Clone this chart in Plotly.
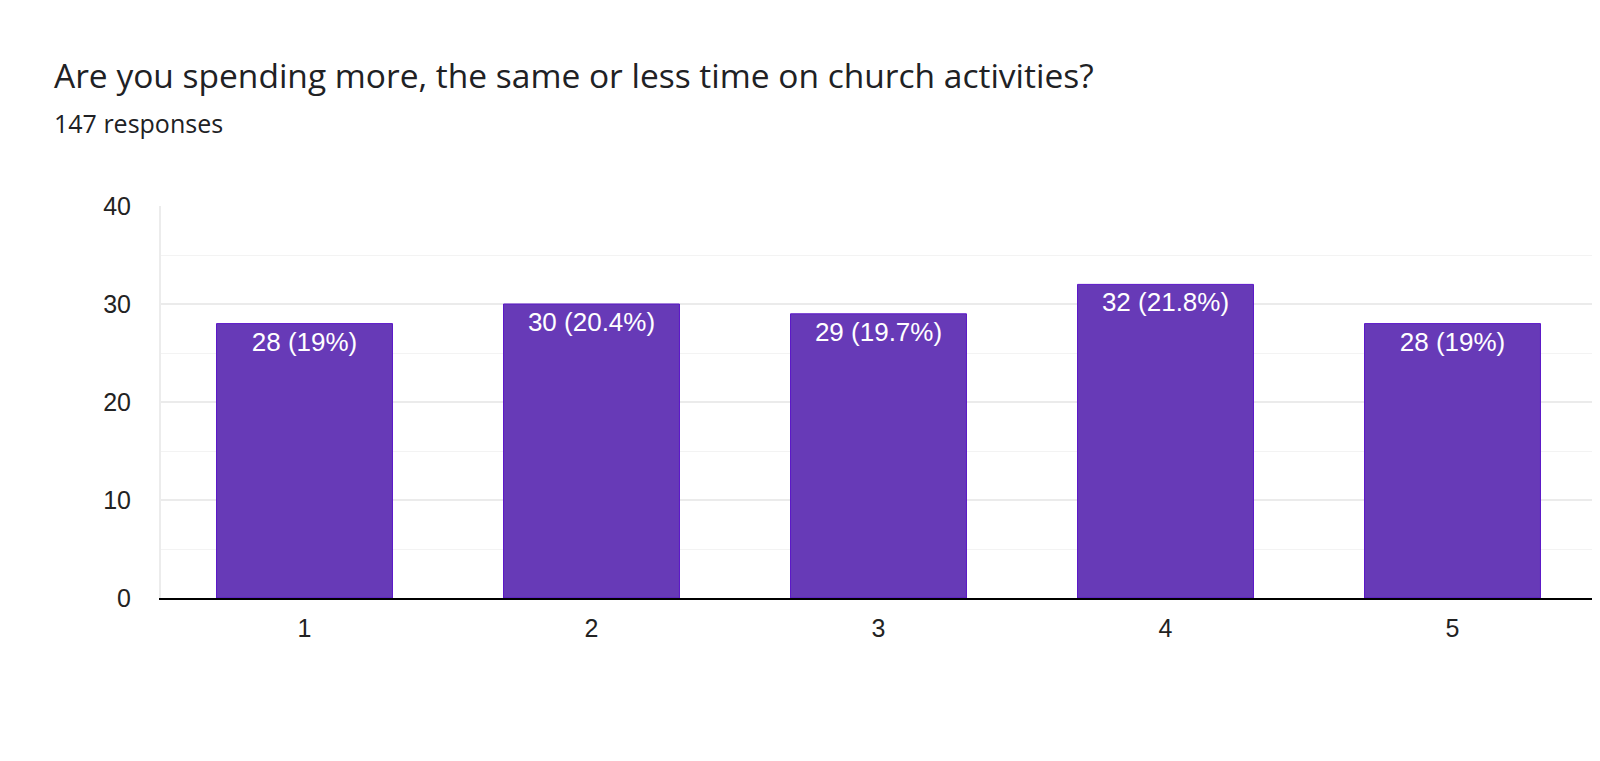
import plotly.graph_objects as go

categories = ["1", "2", "3", "4", "5"]
counts = [28, 30, 29, 32, 28]
labels = ["28 (19%)", "30 (20.4%)", "29 (19.7%)", "32 (21.8%)", "28 (19%)"]
y_ticks = [0, 10, 20, 30, 40]

title_text = "Are you spending more, the same or less time on church activities?"
subtitle_text = "147 responses"

# page body has an 8px default margin; figure coordinates below are offset by it
PLOT_L, PLOT_T, PLOT_B, PLOT_R = 153, 198, 590, 1590
FIG_W, FIG_H = 1592, 745
PH = PLOT_B - PLOT_T
PW = PLOT_R - PLOT_L


def py(y_px):
    return (PLOT_B - y_px) / PH


def px(x_px):
    return (x_px - PLOT_L) / PW


fig = go.Figure()
fig.add_trace(go.Bar(
    x=categories,
    y=counts,
    text=labels,
    textposition="inside",
    insidetextanchor="end",
    textangle=0,
    textfont=dict(family="Liberation Sans, Arial, sans-serif", size=26, color="#ffffff"),
    marker=dict(color="#673ab7", line=dict(color="#5b16c8", width=1)),
    width=0.613,
    hoverinfo="skip",
))

fig.update_layout(
    width=FIG_W,
    height=FIG_H,
    margin=dict(l=PLOT_L, r=FIG_W - PLOT_R, t=PLOT_T, b=FIG_H - PLOT_B),
    paper_bgcolor="#ffffff",
    plot_bgcolor="#ffffff",
    showlegend=False,
    xaxis=dict(
        type="category",
        showgrid=False,
        showline=True,
        linecolor="#000000",
        linewidth=2,
        ticks="",
        tickfont=dict(family="Liberation Sans, Arial, sans-serif", size=25, color="#222222"),
        ticklabelstandoff=7,
        zeroline=False,
        fixedrange=True,
    ),
    yaxis=dict(
        range=[0, 40],
        tickvals=y_ticks,
        showgrid=True,
        gridcolor="#ebebeb",
        gridwidth=2,
        minor=dict(dtick=5, showgrid=True, gridcolor="#f3f3f3", gridwidth=1),
        showline=True,
        linecolor="#ececec",
        linewidth=2,
        mirror=True,
        zeroline=False,
        ticks="",
        tickfont=dict(family="Liberation Sans, Arial, sans-serif", size=25, color="#222222"),
        ticklabelstandoff=23,
        fixedrange=True,
    ),
    annotations=[
        dict(
            text=title_text,
            xref="paper", yref="paper",
            x=px(44), y=py(92),
            xanchor="left", yanchor="bottom",
            showarrow=False,
            font=dict(family="Open Sans, sans-serif", size=33.5, color="#202124"),
        ),
        dict(
            text=subtitle_text,
            xref="paper", yref="paper",
            x=px(44), y=py(134),
            xanchor="left", yanchor="bottom",
            showarrow=False,
            font=dict(family="Open Sans, sans-serif", size=25, color="#202124"),
        ),
    ],
)

fig.write_html("out.html", config={"displayModeBar": False})
